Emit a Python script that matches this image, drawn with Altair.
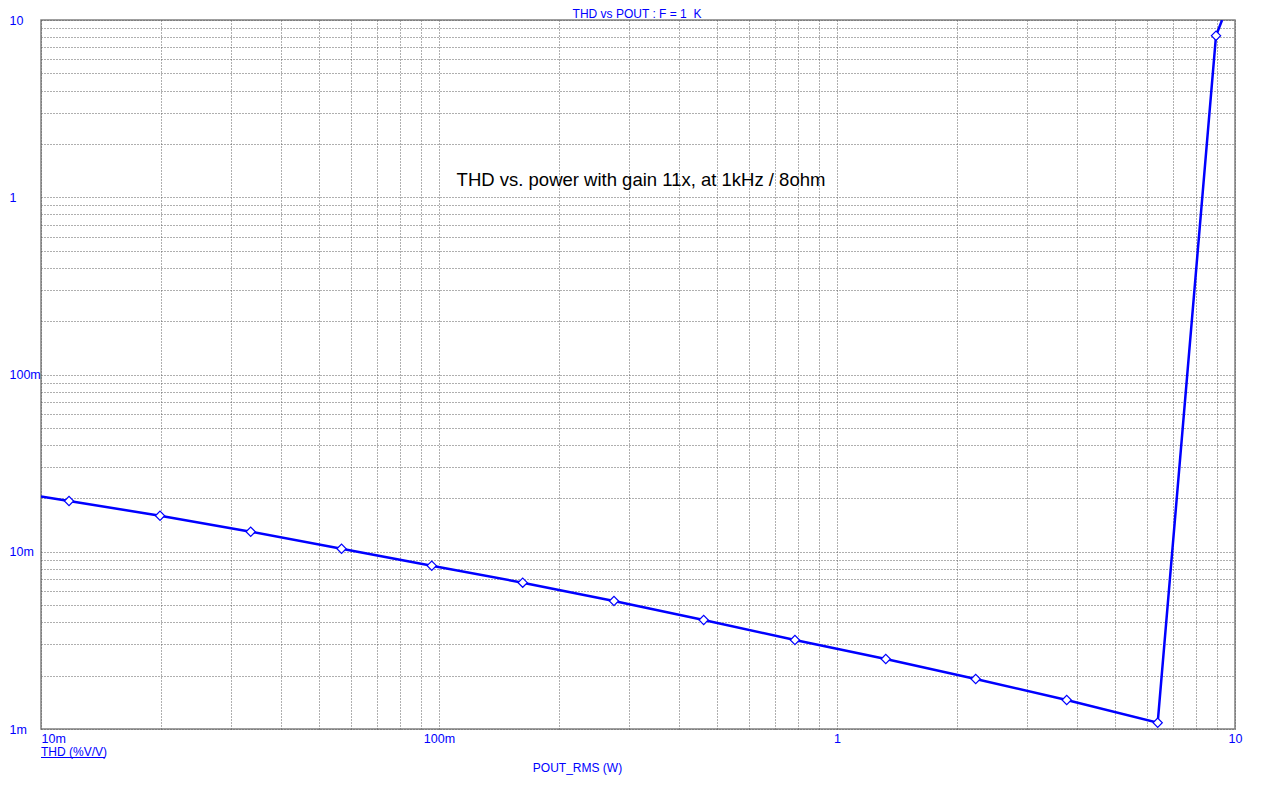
import altair as alt
import pandas as pd

# ---- data ----
pout_w = [0.01, 0.01176, 0.01991, 0.03364, 0.0569, 0.0959, 0.1623, 0.2752,
          0.4624, 0.784, 1.326, 2.231, 3.777, 6.394, 8.960, 9.28]
thd_pct = [0.0205, 0.01934, 0.01597, 0.01297, 0.01040, 0.008343, 0.006691,
           0.005277, 0.004121, 0.003177, 0.002482, 0.001915, 0.001458,
           0.001085, 8.155, 10.0]
has_marker = [False] + [True] * 14 + [False]

x_major = [0.01, 0.1, 1, 10]
x_major_labels = ["10m", "100m", "1", "10"]
y_major = [0.001, 0.01, 0.1, 1, 10]
y_major_labels = ["1m", "10m", "100m", "1", "10"]

title_text = "THD vs POUT : F = 1\u00a0 K"
note_text = "THD vs. power with gain 11x, at 1kHz / 8ohm"
trace_name = "THD (%V/V)"
x_title = "POUT_RMS (W)"

df = pd.DataFrame({"pout": pout_w, "thd": thd_pct, "marker": has_marker})

BLUE = "#0000ff"
GRID = "#5e5e5e"
FRAME = "#808080"
FONT = "Liberation Sans"


def grid_values(lo_exp, hi_exp):
    vals = []
    for e in range(lo_exp, hi_exp):
        for m in range(1, 10):
            vals.append(float(f"{m}e{e}"))
    vals.append(float(f"1e{hi_exp}"))
    return vals


def label_expr(vals, labels):
    parts = []
    for v, l in zip(vals, labels):
        parts.append(f"abs(datum.value - {v}) < {v * 1e-6} ? '{l}' : ")
    return "".join(parts) + "''"


W, H = 1194, 709

x_scale = alt.Scale(type="log", domain=[0.01, 10], nice=False)
y_scale = alt.Scale(type="log", domain=[0.001, 10], nice=False)

x_axis = alt.Axis(
    values=grid_values(-2, 1),
    labelExpr=label_expr(x_major, x_major_labels),
    grid=True, gridColor=GRID, gridDash=[1, 2], gridWidth=1, gridOpacity=1,
    ticks=True, tickSize=0, tickColor="transparent", domain=False,
    labelColor=BLUE, labelFont=FONT, labelFontSize=12.5,
    labelPadding=3, labelBaseline="top", labelOverlap=False, labelBound=False,
    labelFlush=False,
    labelAlign={"condition": {"test": "datum.value < 0.011", "value": "left"}, "value": "center"},
    title=x_title, titleColor=BLUE, titleFont=FONT, titleFontSize=12,
    titleFontWeight="normal", titleX=536, titleY=38, titleAlign="center",
    titleBaseline="middle", titleAnchor="start",
)
y_axis = alt.Axis(
    values=grid_values(-3, 1),
    labelExpr=label_expr(y_major, y_major_labels),
    grid=True, gridColor=GRID, gridDash=[1, 2], gridWidth=1, gridOpacity=1,
    ticks=True, tickSize=0, tickColor="transparent", domain=False,
    labelColor=BLUE, labelFont=FONT, labelFontSize=12.5,
    labelPadding=32, labelAlign="left", labelBaseline="middle",
    labelOverlap=False, labelBound=False, labelFlush=False,
    title=None,
)

base = alt.Chart(df)

line = base.mark_line(color=BLUE, strokeWidth=2.5, clip=True).encode(
    x=alt.X("pout:Q", scale=x_scale, axis=x_axis),
    y=alt.Y("thd:Q", scale=y_scale, axis=y_axis),
    order=alt.Order("pout:Q"),
)

points = base.transform_filter("datum.marker").mark_point(
    shape="diamond", filled=True, fill="white", stroke=BLUE, strokeWidth=1.2,
    size=85, opacity=1, clip=True,
).encode(
    x=alt.X("pout:Q", scale=x_scale),
    y=alt.Y("thd:Q", scale=y_scale),
)

title_mark = alt.Chart(pd.DataFrame({"t": [title_text]})).mark_text(
    font=FONT, fontSize=12, color=BLUE, align="center", baseline="alphabetic",
).encode(text="t:N", x=alt.value(596), y=alt.value(-2))

note_mark = alt.Chart(pd.DataFrame({"t": [note_text]})).mark_text(
    font=FONT, fontSize=18.5, color="black", align="center", baseline="alphabetic",
).encode(text="t:N", x=alt.value(600), y=alt.value(166))

trace_mark = alt.Chart(pd.DataFrame({"t": [trace_name]})).mark_text(
    font=FONT, fontSize=12, color=BLUE, align="left", baseline="alphabetic",
).encode(text="t:N", x=alt.value(0), y=alt.value(736))

underline = alt.Chart(pd.DataFrame({"t": [trace_name]})).mark_rule(
    color=BLUE, strokeWidth=1,
).encode(x=alt.value(0), x2=alt.value(64), y=alt.value(737.5))

chart = alt.layer(line, points, title_mark, note_mark, trace_mark, underline).properties(
    width=W, height=H,
    autosize=alt.AutoSizeParams(type="none"),
    padding={"left": 33, "top": 12, "right": 24, "bottom": 50},
    background="white",
).configure_view(stroke=FRAME, strokeWidth=1.5)

chart.save("out.html", embed_options={"renderer": "svg", "actions": False})
